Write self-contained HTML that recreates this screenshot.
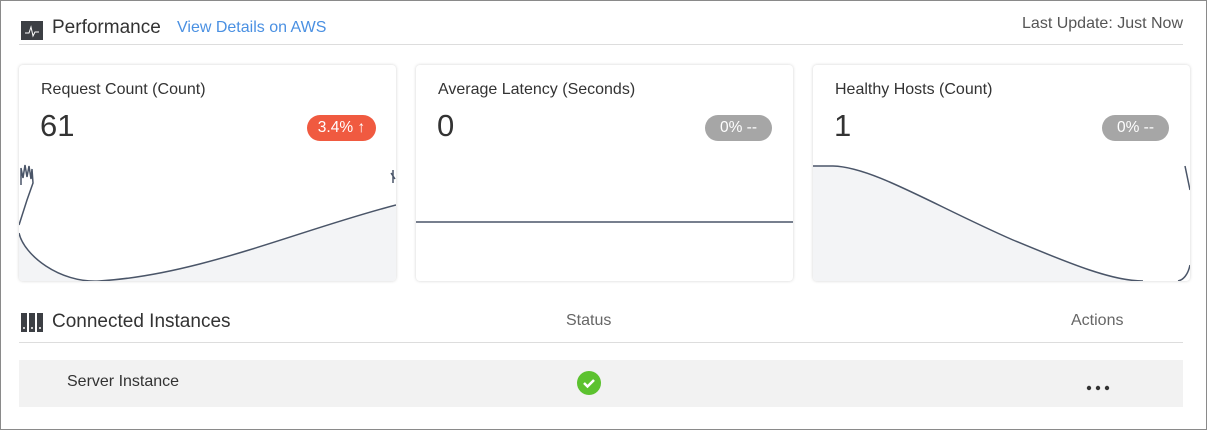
<!DOCTYPE html>
<html><head><style>
*{margin:0;padding:0;box-sizing:border-box}
body{width:1207px;height:430px;background:#fff;font-family:"Liberation Sans",sans-serif;position:relative;overflow:hidden}
.frame{position:absolute;left:0;top:0;width:1207px;height:430px;border:1px solid #8a8a8a}
.a{position:absolute;white-space:nowrap}
.card{position:absolute;top:65px;width:377px;height:216px;background:#fff;border-radius:4px;box-shadow:0 0 3px rgba(0,0,0,.18);overflow:hidden}
.ct{position:absolute;left:22px;top:16px;font-size:16px;color:#333}
.cv{position:absolute;left:21px;top:43px;font-size:31px;color:#333}
.badge{position:absolute;top:50px;height:26px;border-radius:13px;color:#fff;font-size:15.5px;line-height:26px;text-align:center}
.card svg{position:absolute;left:0;top:0}
</style></head><body>
<div class="frame"></div>
<div class="a" style="left:21px;top:21px;width:22px;height:19px;background:#3c3f44"><svg width="22" height="19"><polyline points="4,12 8,12 10,6 12,15 14,11 18,11" fill="none" stroke="#fff" stroke-width="1"/></svg></div>
<div class="a" style="left:52px;top:17px;font-size:19px;color:#333">Performance</div>
<div class="a" style="left:177px;top:19px;font-size:16px;color:#4a90e2">View Details on AWS</div>
<div class="a" style="right:24px;top:15px;font-size:16px;color:#555">Last Update: Just Now</div>
<div class="a" style="left:19px;top:44px;width:1164px;height:1px;background:#ddd"></div>

<div class="card" style="left:19px">
<svg width="377" height="216"><path d="M0,168 C5,190 40,218 80,216 C180,210 280,165 377,140 L377,216 L0,216Z" fill="#f3f4f6"/><path d="M0,168 C5,190 40,218 80,216 C180,210 280,165 377,140" fill="none" stroke="#4a5568" stroke-width="1.5"/><path d="M2,120 L2,103 L4,113 L6,100 L8,112 L10,101 L12,114 L13,104 L14,118 L8,135 L0,160" fill="none" stroke="#4a5568" stroke-width="1.5"/><path d="M372,108 L376,114 M374,105 L374,118" stroke="#4a5568" stroke-width="1.5"/></svg>
<div class="ct">Request Count (Count)</div><div class="cv">61</div>
<div class="badge" style="left:288px;width:69px;background:#f05a40">3.4% ↑</div>
</div>
<div class="card" style="left:416px">
<svg width="377" height="216"><line x1="0" y1="157" x2="377" y2="157" stroke="#4a5568" stroke-width="1.5"/></svg>
<div class="ct">Average Latency (Seconds)</div><div class="cv">0</div>
<div class="badge" style="left:289px;width:67px;background:#a6a6a6">0% --</div>
</div>
<div class="card" style="left:813px">
<svg width="377" height="216"><path d="M0,101 L20,101 C60,102 120,140 200,175 C260,200 300,216 330,216 L377,216 L377,216 L0,216Z" fill="#f3f4f6"/><path d="M0,101 L20,101 C60,102 120,140 200,175 C260,200 300,216 330,216" fill="none" stroke="#4a5568" stroke-width="1.5"/><path d="M372,101 L377,125 M377,200 C375,210 370,215 365,216" fill="none" stroke="#4a5568" stroke-width="1.5"/></svg>
<div class="ct">Healthy Hosts (Count)</div><div class="cv">1</div>
<div class="badge" style="left:289px;width:67px;background:#a6a6a6">0% --</div>
</div>

<div class="a" style="left:21px;top:313px;width:22px;height:19px"><svg width="22" height="19"><rect x="0" y="0" width="6" height="19" fill="#3c3f44"/><rect x="8" y="0" width="6" height="19" fill="#3c3f44"/><rect x="16" y="0" width="6" height="19" fill="#3c3f44"/><rect x="2" y="14" width="2" height="2" fill="#ccc"/><rect x="10" y="14" width="2" height="2" fill="#ccc"/><rect x="18" y="14" width="2" height="2" fill="#ccc"/></svg></div>
<div class="a" style="left:52px;top:311px;font-size:19px;color:#333">Connected Instances</div>
<div class="a" style="left:566px;top:312px;font-size:16px;color:#666">Status</div>
<div class="a" style="left:1071px;top:312px;font-size:16px;color:#666">Actions</div>
<div class="a" style="left:19px;top:342px;width:1164px;height:1px;background:#ddd"></div>
<div class="a" style="left:19px;top:360px;width:1164px;height:47px;background:#f2f2f2"></div>
<div class="a" style="left:67px;top:373px;font-size:16px;color:#333">Server Instance</div>
<svg class="a" style="left:577px;top:371px" width="24" height="24"><circle cx="12" cy="12" r="12" fill="#5cc22f"/><polyline points="7,12 10.5,15.5 17,9" fill="none" stroke="#fff" stroke-width="2.5"/></svg>
<svg class="a" style="left:1086px;top:385px" width="24" height="6"><circle cx="3" cy="3" r="2.2" fill="#333"/><circle cx="12" cy="3" r="2.2" fill="#333"/><circle cx="21" cy="3" r="2.2" fill="#333"/></svg>
</body></html>
